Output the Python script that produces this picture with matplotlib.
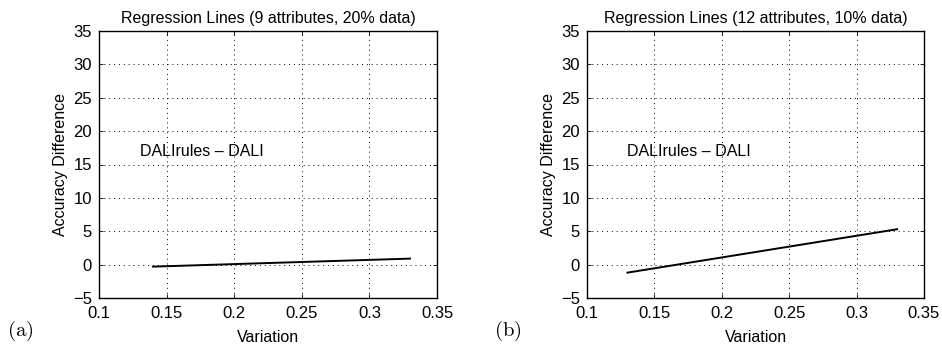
import matplotlib
matplotlib.use("Agg")
import matplotlib.pyplot as plt

plt.rcParams['font.family'] = ['Liberation Sans', 'DejaVu Sans']
plt.rcParams['mathtext.fontset'] = 'cm'

titles = ["Regression Lines (9 attributes, 20% data)",
          "Regression Lines (12 attributes, 10% data)"]
panel_labels = [r"$(\mathrm{a})$", r"$(\mathrm{b})$"]
x_a = [0.14, 0.33]
y_a = [-0.3, 0.9]
x_b = [0.13, 0.33]
y_b = [-1.2, 5.3]
xticks = [0.1, 0.15, 0.2, 0.25, 0.3, 0.35]
xticklabels = ["0.1", "0.15", "0.2", "0.25", "0.3", "0.35"]
yticks = [-5, 0, 5, 10, 15, 20, 25, 30, 35]
yticklabels = ["\u22125", "0", "5", "10", "15", "20", "25", "30", "35"]
annot = "DALIrules \u2013 DALI"

fig = plt.figure(figsize=(9.42, 3.49), dpi=100)
W, H = 942, 349
axes_px = [(99, 31, 437, 298), (587, 31, 924, 298)]
data = [(x_a, y_a), (x_b, y_b)]
label_pos = [(7, 331), (494, 331)]

for i in range(2):
    l, t, r, b = axes_px[i]
    ax = fig.add_axes([l / W, 1 - b / H, (r - l) / W, (b - t) / H])
    xs, ys = data[i]
    ax.plot(xs, ys, color='black', linewidth=1.4)
    ax.set_xlim(0.1, 0.35)
    ax.set_ylim(-5, 35)
    ax.set_xticks(xticks)
    ax.set_xticklabels(xticklabels)
    ax.set_yticks(yticks)
    ax.set_yticklabels(yticklabels)
    ax.tick_params(direction='in', length=3, width=0.6, top=True, right=True,
                   labelsize=12, pad=6, colors='black')
    ax.tick_params(axis='y', pad=5)
    ax.grid(True, linestyle=(0, (1, 4)), color='black', linewidth=0.7)
    for s in ax.spines.values():
        s.set_linewidth(1.0)
    ax.set_title(titles[i], fontsize=11.5, pad=6)
    ax.set_xlabel("Variation", fontsize=11.5, labelpad=6)
    ax.set_ylabel("Accuracy Difference", fontsize=11.5, labelpad=4)
    ax.text(0.13, 17, annot, fontsize=11.5, va='center', ha='left')
    lx, ly = label_pos[i]
    fig.text(lx / W, 1 - ly / H, panel_labels[i], fontsize=15,
             va='center', ha='left')

fig.savefig("out.png", dpi=100)
